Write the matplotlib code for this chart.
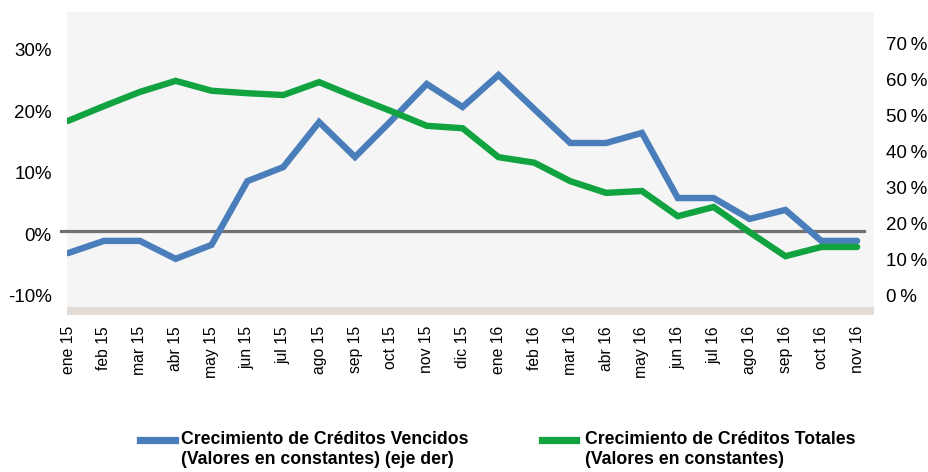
import matplotlib
matplotlib.use("Agg")
import matplotlib.pyplot as plt
from matplotlib.lines import Line2D
from matplotlib.ticker import FuncFormatter
from matplotlib.transforms import blended_transform_factory, ScaledTranslation

plt.rcParams['font.family'] = ['Liberation Sans', 'DejaVu Sans']

# data
months = ['ene 15', 'feb 15', 'mar 15', 'abr 15', 'may 15', 'jun 15', 'jul 15',
          'ago 15', 'sep 15', 'oct 15', 'nov 15', 'dic 15', 'ene 16', 'feb 16',
          'mar 16', 'abr 16', 'may 16', 'jun 16', 'jul 16', 'ago 16', 'sep 16',
          'oct 16', 'nov 16']
vencidos = [10.8, 14.2, 14.2, 9.2, 13.1, 30.8, 34.7, 47.2, 37.5, 47.5, 57.8, 51.4,
            60.3, 50.8, 41.4, 41.4, 44.2, 26.1, 26.1, 20.3, 22.8, 14.2, 14.2]
totales = [17.9, 20.3, 22.6, 24.4, 22.8, 22.4, 22.1, 24.2, 21.8, 19.5, 17.1, 16.7,
           12.0, 11.1, 8.1, 6.2, 6.5, 2.4, 3.9, -0.2, -4.1, -2.6, -2.6]
left_ticks = [-10, 0, 10, 20, 30]
right_ticks = [0, 10, 20, 30, 40, 50, 60, 70]
label_vencidos = ['Crecimiento de Créditos Vencidos', '(Valores en constantes) (eje der)']
label_totales = ['Crecimiento de Créditos Totales', '(Valores en constantes)']

blue = '#4a7ebb'
green = '#10a340'

fig = plt.figure(figsize=(9.29, 4.72), dpi=100)
ax_r = fig.add_axes([67 / 929, 1 - 315 / 472, 807 / 929, 303 / 472])
ax_l = ax_r.twinx()

# right axis behind: background, floor band, blue series
ax_r.set_facecolor('#f5f5f5')
x = list(range(len(months)))
ax_r.set_xlim(-0.03, 22.47)
ax_r.set_ylim(-6.4, 77.8)
ax_l.set_ylim(-13.66, 35.6)

ax_r.axhspan(-6.4, -6.4 + 8 / 3.6, color='#e2dbd7', lw=0, zorder=0)

zero_tr = blended_transform_factory(ax_r.transAxes, ax_l.transData)
ax_r.plot([-0.0074, 0.9876], [0, 0], color='#707070', lw=2.3, transform=zero_tr,
          clip_on=False, zorder=1)
ax_r.plot(x, vencidos, color=blue, lw=4.6, solid_joinstyle='miter',
          solid_capstyle='round', zorder=2)
ax_l.plot(x, totales, color=green, lw=4.6, solid_joinstyle='miter',
          solid_capstyle='round', zorder=3)

for a in (ax_r, ax_l):
    for s in a.spines.values():
        s.set_visible(False)

ax_r.set_xticks(x)
ax_r.set_xticklabels(months, rotation=90, fontsize=11.3)
ax_r.tick_params(axis='x', length=0, pad=8)

ax_r.yaxis.tick_right()
ax_r.set_yticks(right_ticks)
ax_r.yaxis.set_major_formatter(FuncFormatter(lambda v, p: f'{v:.0f}\u2009%'))
ax_r.tick_params(axis='y', length=0, pad=9, labelsize=13.5)

ax_l.yaxis.tick_left()
ax_l.set_yticks(left_ticks)
ax_l.yaxis.set_major_formatter(FuncFormatter(lambda v, p: f'{v:.0f}%'))
ax_l.tick_params(axis='y', length=0, pad=11, labelsize=13.5)

# labels sit a little below their gridline in the original
shift = ScaledTranslation(0, -3.5 / 100, fig.dpi_scale_trans)
for lab in ax_r.get_yticklabels() + ax_l.get_yticklabels():
    lab.set_transform(lab.get_transform() + shift)

# legend
for x0, x1, tx, col, lines in [(140, 175, 181, blue, label_vencidos),
                               (542, 576, 585, green, label_totales)]:
    fig.add_artist(Line2D([x0 / 929, x1 / 929], [1 - 440 / 472] * 2, color=col, lw=5.2))
    fig.text(tx / 929, 1 - 440 / 472, lines[0], fontsize=12.7, fontweight='bold',
             va='center', ha='left')
    fig.text(tx / 929, 1 - 460 / 472, lines[1], fontsize=12.7, fontweight='bold',
             va='center', ha='left')

fig.savefig('out.png', dpi=100)
